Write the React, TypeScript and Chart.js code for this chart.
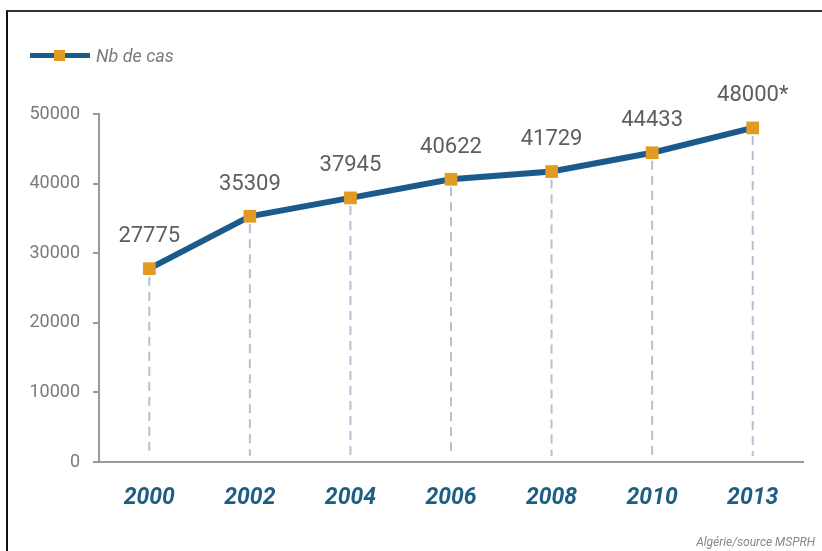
import React, { useEffect, useRef } from "react";
import { Chart, registerables } from "chart.js";

Chart.register(...registerables);

const categories = ["2000", "2002", "2004", "2006", "2008", "2010", "2013"];
const cases = [27775, 35309, 37945, 40622, 41729, 44433, 48000];
const pointLabels = ["27775", "35309", "37945", "40622", "41729", "44433", "48000*"];
const yTicks = [0, 10000, 20000, 30000, 40000, 50000];
const seriesName = "Nb de cas";
const sourceText = "Algérie/source MSPRH";

const LINE_COLOR = "#1b5b8c";
const MARKER_COLOR = "#e29b22";

const dropLinesPlugin = {
  id: "dropLines",
  beforeDatasetsDraw(chart: any) {
    const ctx = chart.ctx;
    const meta = chart.getDatasetMeta(0);
    const yBottom = chart.scales.y.getPixelForValue(0);
    ctx.save();
    ctx.strokeStyle = "#b1c3d3";
    ctx.lineWidth = 2;
    ctx.setLineDash([9, 6]);
    meta.data.forEach((pt: any) => {
      ctx.beginPath();
      ctx.moveTo(pt.x, pt.y + 8);
      ctx.lineTo(pt.x, yBottom - 6);
      ctx.stroke();
    });
    ctx.restore();
  },
};

const valueLabelsPlugin = {
  id: "valueLabels",
  afterDatasetsDraw(chart: any) {
    const ctx = chart.ctx;
    const meta = chart.getDatasetMeta(0);
    ctx.save();
    ctx.fillStyle = "#5e5e5e";
    ctx.font = "22px Roboto, 'DejaVu Sans', sans-serif";
    ctx.textAlign = "center";
    ctx.textBaseline = "middle";
    meta.data.forEach((pt: any, i: number) => {
      ctx.fillText(pointLabels[i], pt.x, pt.y - 32);
    });
    ctx.restore();
  },
};

export default function App() {
  const canvasRef = useRef<HTMLCanvasElement | null>(null);

  useEffect(() => {
    document.body.style.margin = "0";
    if (!canvasRef.current) return;
    const chart = new Chart(canvasRef.current, {
      type: "line",
      data: {
        labels: categories,
        datasets: [
          {
            label: seriesName,
            data: cases,
            borderColor: LINE_COLOR,
            borderWidth: 6,
            pointStyle: "rect",
            pointRadius: 9,
            pointHoverRadius: 9,
            pointBackgroundColor: MARKER_COLOR,
            pointBorderColor: MARKER_COLOR,
            pointBorderWidth: 0,
            tension: 0,
            fill: false,
          },
        ],
      },
      options: {
        animation: false,
        responsive: false,
        devicePixelRatio: 1,
        layout: { padding: { top: 114, right: 19, left: 0, bottom: 0 } },
        plugins: {
          legend: { display: false },
          tooltip: { enabled: false },
        },
        scales: {
          x: {
            offset: true,
            grid: { display: false },
            border: { display: true, color: "#9a9a9a", width: 2 },
            ticks: {
              color: "#1d5e85",
              padding: 14,
              font: { family: "Roboto, 'DejaVu Sans', sans-serif", size: 23, style: "italic", weight: "bold" },
            },
            afterFit(s: any) {
              s.height = 89;
            },
          },
          y: {
            min: 0,
            max: 50000,
            afterBuildTicks(s: any) {
              s.ticks = yTicks.map((v) => ({ value: v }));
            },
            grid: {
              drawOnChartArea: false,
              drawTicks: true,
              tickLength: 6,
              color: "#9a9a9a",
              lineWidth: 2,
            },
            border: { display: true, color: "#9a9a9a", width: 2 },
            ticks: {
              color: "#7a7a7a",
              padding: 13,
              font: { family: "Roboto, 'DejaVu Sans', sans-serif", size: 18 },
              callback: (v: any) => String(v),
            },
            afterFit(s: any) {
              s.width = 99;
            },
          },
        },
      },
      plugins: [dropLinesPlugin, valueLabelsPlugin],
    });
    return () => chart.destroy();
  }, []);

  return (
    <div style={{ position: "relative", width: 822, height: 551, background: "#fff", overflow: "hidden" }}>
      <canvas ref={canvasRef} width={822} height={551} style={{ position: "absolute", left: 0, top: 0 }} />
      <div
        style={{
          position: "absolute",
          left: 6,
          top: 10,
          right: 0,
          bottom: -4,
          borderLeft: "2px solid #111",
          borderTop: "2px solid #333",
          pointerEvents: "none",
        }}
      />
      <div style={{ position: "absolute", left: 30, top: 43, height: 24, display: "flex", alignItems: "center" }}>
        <div style={{ position: "relative", width: 60, height: 24 }}>
          <div style={{ position: "absolute", left: 0, top: 10, width: 60, height: 5, background: LINE_COLOR }} />
          <div style={{ position: "absolute", left: 24, top: 7, width: 11, height: 11, background: MARKER_COLOR }} />
        </div>
        <span
          style={{
            marginLeft: 6,
            fontFamily: "Roboto, 'DejaVu Sans', sans-serif",
            fontStyle: "italic",
            fontSize: 18,
            color: "#7a7a7a",
          }}
        >
          {seriesName}
        </span>
      </div>
      <div
        style={{
          position: "absolute",
          right: 7,
          top: 535,
          fontFamily: "Roboto, 'DejaVu Sans', sans-serif",
          fontStyle: "italic",
          fontSize: 12,
          color: "#888",
        }}
      >
        {sourceText}
      </div>
    </div>
  );
}
